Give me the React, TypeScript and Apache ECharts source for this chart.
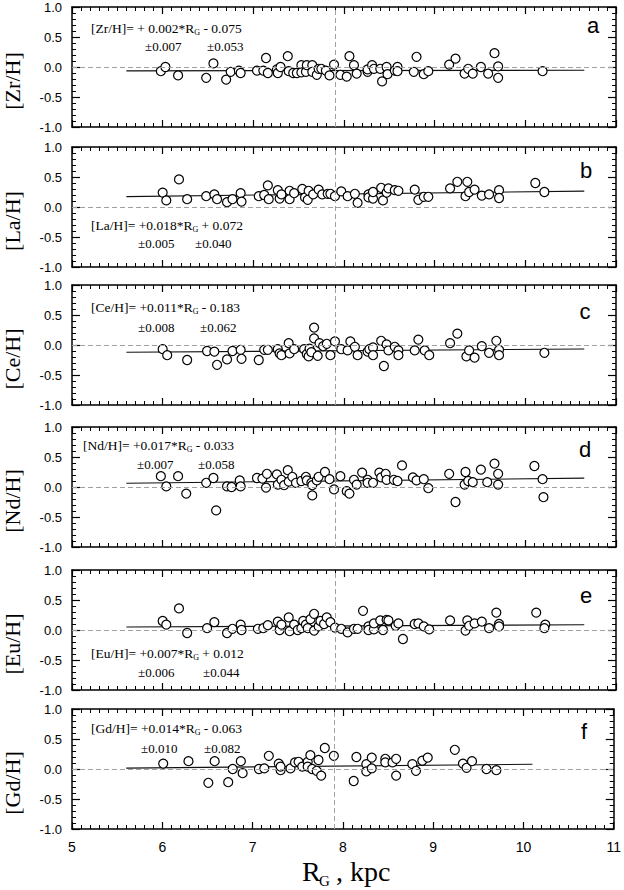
import React, { useEffect, useRef } from 'react';
import * as echarts from 'echarts';

// ---------- data ----------
const xMin = 5;
const xMax = 11;
const yMin = -1;
const yMax = 1;
const sunR = 7.9;

const elements = ['[Zr/H]', '[La/H]', '[Ce/H]', '[Nd/H]', '[Eu/H]', '[Gd/H]'];
const letters = ['a', 'b', 'c', 'd', 'e', 'f'];
const equations = [
  '[Zr/H]= + 0.002*R{g|G} - 0.075',
  '[La/H]= +0.018*R{g|G} + 0.072',
  '[Ce/H]= +0.011*R{g|G} - 0.183',
  '[Nd/H]= +0.017*R{g|G} - 0.033',
  '[Eu/H]= +0.007*R{g|G} + 0.012',
  '[Gd/H]= +0.014*R{g|G} - 0.063',
];
const slopeErrors = ['±0.007', '±0.005', '±0.008', '±0.007', '±0.006', '±0.010'];
const interceptErrors = ['±0.053', '±0.040', '±0.062', '±0.058', '±0.044', '±0.082'];

const zrFit = [[5.6, -0.064], [10.65, -0.054]];
const laFit = [[5.6, 0.173], [10.65, 0.264]];
const ceFit = [[5.6, -0.121], [10.65, -0.066]];
const ndFit = [[5.6, 0.062], [10.65, 0.148]];
const euFit = [[5.6, 0.051], [10.65, 0.087]];
const gdFit = [[5.6, 0.015], [10.1, 0.078]];

const zrData = [
  [5.98, -0.07], [6.03, 0.0], [6.17, -0.14], [6.48, -0.18], [6.56, 0.06], [6.70, -0.21], [6.75, -0.08],
  [6.84, -0.06], [6.86, -0.10], [7.04, -0.06], [7.11, -0.06], [7.14, 0.15], [7.16, -0.10], [7.26, -0.04],
  [7.27, -0.10], [7.30, 0.0], [7.38, 0.18], [7.39, -0.07], [7.44, -0.10], [7.48, -0.10],
  [7.53, 0.03], [7.53, -0.09], [7.58, -0.08], [7.59, 0.03], [7.65, 0.03], [7.65, -0.08], [7.70, -0.13],
  [7.72, -0.03], [7.75, -0.03], [7.80, -0.06], [7.84, -0.14], [7.89, 0.04], [7.96, -0.13], [8.03, -0.16],
  [8.06, 0.18], [8.11, 0.03], [8.14, -0.11], [8.26, -0.08], [8.26, -0.04], [8.31, 0.03], [8.33, -0.03],
  [8.40, -0.03], [8.42, -0.24], [8.47, 0.0], [8.48, -0.12], [8.56, -0.06], [8.59, 0.0], [8.59, -0.07],
  [8.77, -0.08], [8.80, 0.17], [8.88, -0.12], [8.93, -0.07], [9.16, 0.04], [9.23, 0.14], [9.33, -0.11],
  [9.37, -0.03], [9.42, -0.11], [9.51, 0.0], [9.59, -0.11], [9.66, 0.23], [9.70, 0.01], [9.70, -0.18],
  [10.19, -0.07],
];
const laData = [
  [6.0, 0.24], [6.04, 0.11], [6.18, 0.46], [6.27, 0.13], [6.48, 0.18], [6.57, 0.21], [6.60, 0.13],
  [6.71, 0.08], [6.77, 0.13], [6.86, 0.23], [6.87, 0.09], [7.06, 0.18], [7.12, 0.20], [7.16, 0.36],
  [7.17, 0.13], [7.27, 0.28], [7.29, 0.14], [7.31, 0.21], [7.40, 0.27], [7.40, 0.13], [7.45, 0.23],
  [7.54, 0.30], [7.57, 0.16], [7.60, 0.12], [7.61, 0.27], [7.66, 0.21], [7.72, 0.29],
  [7.76, 0.21], [7.82, 0.22], [7.85, 0.22], [7.90, 0.18], [7.97, 0.26], [8.04, 0.18], [8.12, 0.22],
  [8.15, 0.07], [8.27, 0.21], [8.27, 0.16], [8.32, 0.14], [8.32, 0.25], [8.41, 0.32], [8.43, 0.11],
  [8.47, 0.24], [8.49, 0.31], [8.56, 0.28], [8.60, 0.27], [8.78, 0.29], [8.82, 0.12], [8.88, 0.17],
  [8.93, 0.17], [9.17, 0.31], [9.25, 0.42], [9.34, 0.18], [9.36, 0.42], [9.38, 0.25], [9.44, 0.29],
  [9.52, 0.19], [9.60, 0.21], [9.71, 0.28], [9.71, 0.15], [10.11, 0.40], [10.21, 0.25],
];
const ceData = [
  [6.0, -0.07], [6.05, -0.17], [6.27, -0.25], [6.49, -0.10], [6.57, -0.11], [6.60, -0.33], [6.71, -0.24],
  [6.77, -0.10], [6.86, -0.08], [6.87, -0.23], [7.06, -0.25], [7.12, -0.08], [7.16, -0.08], [7.27, -0.07],
  [7.29, -0.14], [7.31, -0.17], [7.39, 0.03], [7.40, -0.14], [7.45, -0.07],
  [7.56, -0.07], [7.59, -0.15], [7.61, -0.19], [7.62, -0.06], [7.64, -0.12], [7.67, 0.29], [7.67, 0.11],
  [7.71, -0.18], [7.73, 0.03], [7.77, -0.02], [7.81, 0.02], [7.85, -0.17], [7.90, 0.06], [7.97, -0.07],
  [8.04, -0.09], [8.07, 0.06], [8.12, -0.03], [8.15, -0.17], [8.26, -0.11], [8.28, -0.07], [8.32, -0.04],
  [8.32, -0.17], [8.41, 0.07], [8.44, -0.35], [8.47, 0.01], [8.49, -0.09], [8.56, -0.03], [8.60, -0.09],
  [8.60, -0.17], [8.78, -0.09], [8.82, 0.09], [8.89, -0.09], [8.94, -0.17], [9.17, 0.03], [9.25, 0.19],
  [9.35, -0.19], [9.38, -0.09], [9.44, -0.21], [9.52, -0.02], [9.60, -0.13], [9.68, 0.07], [9.71, -0.08],
  [9.71, -0.17], [10.21, -0.13],
];
const ndData = [
  [5.98, 0.18], [6.04, 0.01], [6.17, 0.18], [6.26, -0.11], [6.48, 0.07], [6.56, 0.15], [6.59, -0.39],
  [6.71, 0.01], [6.76, 0.0], [6.85, 0.11], [6.86, 0.01], [7.04, 0.15], [7.10, 0.14], [7.15, 0.22],
  [7.14, -0.01], [7.26, 0.21], [7.27, 0.04], [7.31, 0.12], [7.34, 0.03], [7.38, 0.28], [7.39, 0.09],
  [7.43, 0.17], [7.47, 0.07],
  [7.53, 0.10], [7.58, 0.17], [7.59, 0.11], [7.64, 0.07], [7.65, 0.03], [7.65, -0.14], [7.70, 0.11],
  [7.72, 0.17], [7.79, 0.25], [7.84, 0.13], [7.89, -0.04], [7.96, 0.18], [8.03, -0.07], [8.06, -0.11],
  [8.11, 0.12], [8.14, 0.04], [8.20, 0.24], [8.26, 0.12], [8.26, 0.07], [8.32, 0.07], [8.39, 0.24],
  [8.41, 0.16], [8.46, 0.22], [8.47, 0.12], [8.55, 0.12], [8.59, 0.10], [8.64, 0.36], [8.76, 0.16],
  [8.80, 0.11], [8.88, 0.13], [8.93, -0.02], [9.16, 0.22], [9.23, -0.25], [9.34, 0.25], [9.33, 0.04],
  [9.37, 0.10], [9.42, 0.08], [9.51, 0.29], [9.58, 0.08], [9.66, 0.39], [9.70, 0.22], [9.70, 0.04],
  [10.10, 0.35], [10.19, 0.13], [10.20, -0.17],
];
const euData = [
  [6.0, 0.15], [6.04, 0.09], [6.18, 0.36], [6.27, -0.05], [6.49, 0.03], [6.57, 0.13], [6.71, -0.05],
  [6.77, 0.02], [6.86, 0.09], [6.87, 0.0], [7.05, 0.02], [7.11, 0.03], [7.16, 0.08], [7.27, 0.14],
  [7.29, 0.0], [7.31, 0.09], [7.39, 0.21], [7.40, -0.02], [7.45, 0.09], [7.49, 0.0],
  [7.53, 0.03], [7.55, 0.15], [7.58, 0.09], [7.60, 0.03], [7.63, 0.18], [7.67, 0.27], [7.67, -0.01],
  [7.72, 0.06], [7.74, 0.15], [7.78, 0.10], [7.81, 0.21], [7.85, 0.13], [7.90, 0.04], [7.97, 0.02],
  [8.04, -0.04], [8.11, 0.02], [8.15, 0.02], [8.21, 0.32], [8.27, 0.06], [8.27, 0.0], [8.33, 0.01],
  [8.33, 0.11], [8.40, 0.16], [8.43, 0.0], [8.47, 0.17], [8.49, 0.16], [8.57, 0.07], [8.60, 0.11],
  [8.65, -0.15], [8.78, 0.10], [8.82, 0.11], [8.88, 0.06], [8.94, 0.01], [9.17, 0.16], [9.34, -0.01],
  [9.36, 0.16], [9.38, 0.07], [9.44, 0.11], [9.52, 0.14], [9.60, 0.03], [9.68, 0.29], [9.71, 0.10],
  [9.71, 0.06], [10.12, 0.29], [10.22, 0.09], [10.21, 0.03],
];
const gdData = [
  [6.01, 0.09], [6.29, 0.13], [6.51, -0.23], [6.58, 0.13], [6.73, -0.22], [6.78, 0.0], [6.87, 0.13],
  [6.89, -0.07], [7.07, 0.0], [7.13, 0.01], [7.18, 0.22], [7.29, 0.09], [7.31, -0.02], [7.31, 0.04],
  [7.42, 0.01], [7.47, 0.11],
  [7.51, 0.12], [7.55, 0.04], [7.61, 0.12], [7.61, 0.04], [7.64, 0.23], [7.66, 0.0], [7.71, -0.03],
  [7.73, 0.15], [7.76, -0.11], [7.80, 0.35], [7.90, 0.22], [8.12, -0.2], [8.15, 0.2], [8.26, 0.08],
  [8.26, -0.04], [8.32, 0.19], [8.32, 0.01], [8.47, 0.17], [8.47, 0.11], [8.55, 0.11], [8.59, 0.17],
  [8.59, -0.11], [8.77, 0.08], [8.81, -0.03], [8.88, 0.14], [8.94, 0.19], [9.24, 0.32], [9.33, 0.09],
  [9.37, 0.02], [9.43, 0.13], [9.59, 0.0], [9.70, -0.02],
];

const panelData = [zrData, laData, ceData, ndData, euData, gdData];
const panelFits = [zrFit, laFit, ceFit, ndFit, euFit, gdFit];

// ---------- layout ----------
const W = 624;
const H = 890;
const gridLeft = 72;
const gridWidth = 544;
const gridHeight = 120;
const gridTops = [7, 147, 285, 427, 570, 709];
const eqX = [91, 91, 91, 83, 91, 91];
const eqY = [28, 225, 307, 445, 653, 728];
const errY = [46, 243, 327, 464, 672, 748];
const err1X = [145, 138, 138, 137, 138, 141];
const err2X = [207, 195, 200, 198, 203, 204];
const letterX = [593, 586, 585, 585, 586, 584];
const letterY = [25, 170, 311, 449, 595, 731];

const SANS = 'Liberation Sans, Arial, sans-serif';
const SERIF = 'Liberation Serif, Times New Roman, serif';

function buildOption() {
  const grid: any[] = [];
  const xAxis: any[] = [];
  const yAxis: any[] = [];
  const series: any[] = [];
  const graphic: any[] = [];

  for (let i = 0; i < 6; i++) {
    grid.push({ left: gridLeft, width: gridWidth, top: gridTops[i], height: gridHeight });
    const axisLine = { show: true, onZero: false, lineStyle: { color: '#000', width: 1.5 } };
    const tick = { show: true, inside: true, length: 7, lineStyle: { color: '#000', width: 1.2 } };
    const minorX = { show: true, splitNumber: 10, length: 4, lineStyle: { color: '#000', width: 1 } };
    const minorY = { show: true, splitNumber: 5, length: 4, lineStyle: { color: '#000', width: 1 } };
    const isBottom = i === 5;
    const baseX = {
      gridIndex: i, type: 'value', min: xMin, max: xMax, interval: 1,
      axisLine, axisTick: tick, minorTick: minorX,
      splitLine: { show: false }, minorSplitLine: { show: false },
    };
    xAxis.push({
      ...baseX, position: 'bottom',
      axisLabel: { show: isBottom, color: '#000', fontFamily: SANS, fontSize: 14, margin: 11 },
    });
    xAxis.push({ ...baseX, position: 'top', axisLabel: { show: false } });
    const baseY = {
      gridIndex: i, type: 'value', min: yMin, max: yMax, interval: 0.5,
      axisLine, axisTick: { ...tick, length: 8 }, minorTick: minorY,
      splitLine: { show: false }, minorSplitLine: { show: false },
    };
    yAxis.push({
      ...baseY, position: 'left',
      axisLabel: {
        show: true, color: '#000', fontFamily: SANS, fontSize: 13, margin: 10,
        formatter: (v: number) => v.toFixed(1),
      },
    });
    yAxis.push({ ...baseY, position: 'right', axisLabel: { show: false } });

    series.push({
      type: 'line',
      xAxisIndex: 2 * i,
      yAxisIndex: 2 * i,
      data: panelFits[i],
      symbol: 'none',
      silent: true,
      lineStyle: { color: '#111', width: 1.1 },
      markLine: {
        silent: true,
        symbol: ['none', 'none'],
        label: { show: false },
        lineStyle: { type: [5, 3], color: '#a0a0a0', width: 1 },
        data: [{ yAxis: 0 }, { xAxis: sunR }],
      },
      z: 1,
    });
    series.push({
      type: 'scatter',
      xAxisIndex: 2 * i,
      yAxisIndex: 2 * i,
      data: panelData[i],
      symbol: 'circle',
      symbolSize: 9,
      itemStyle: { color: '#fff', borderColor: '#000', borderWidth: 1.2, opacity: 1 },
      z: 3,
    });

    // y axis title
    graphic.push({
      type: 'text',
      x: 12,
      y: gridTops[i] + gridHeight / 2 + 14,
      rotation: Math.PI / 2,
      style: {
        text: elements[i], fill: '#000', fontFamily: SERIF, fontSize: 22,
        align: 'center', verticalAlign: 'middle',
      },
    });
    // equation
    graphic.push({
      type: 'text',
      x: eqX[i],
      y: eqY[i],
      style: {
        text: equations[i], fill: '#000', fontFamily: SERIF, fontSize: 13.5, lineHeight: 16,
        align: 'left', verticalAlign: 'middle',
        rich: {
          g: { fontFamily: SERIF, fontSize: 8, lineHeight: 8, verticalAlign: 'bottom', fill: '#000' },
        },
      },
    });
    graphic.push({
      type: 'text', x: err1X[i], y: errY[i],
      style: { text: slopeErrors[i], fill: '#000', fontFamily: SERIF, fontSize: 13, align: 'left', verticalAlign: 'middle' },
    });
    graphic.push({
      type: 'text', x: err2X[i], y: errY[i],
      style: { text: interceptErrors[i], fill: '#000', fontFamily: SERIF, fontSize: 13, align: 'left', verticalAlign: 'middle' },
    });
    // panel letter
    graphic.push({
      type: 'text', x: letterX[i], y: letterY[i],
      style: { text: letters[i], fill: '#000', fontFamily: SANS, fontSize: 22, align: 'center', verticalAlign: 'middle' },
    });
  }

  // x axis title: R_G , kpc
  graphic.push({
    type: 'text', x: 302, y: 871,
    style: { text: 'R', fill: '#000', fontFamily: SERIF, fontSize: 28, align: 'left', verticalAlign: 'middle' },
  });
  graphic.push({
    type: 'text', x: 319, y: 881,
    style: { text: 'G', fill: '#000', fontFamily: SERIF, fontSize: 15, align: 'left', verticalAlign: 'middle' },
  });
  graphic.push({
    type: 'text', x: 336, y: 871,
    style: { text: ', kpc', fill: '#000', fontFamily: SERIF, fontSize: 28, align: 'left', verticalAlign: 'middle' },
  });

  return {
    animation: false,
    backgroundColor: '#fff',
    grid,
    xAxis,
    yAxis,
    series,
    graphic: { elements: graphic },
  };
}

export default function App() {
  const ref = useRef<HTMLDivElement>(null);
  useEffect(() => {
    if (!ref.current) return;
    const chart = echarts.init(ref.current, undefined, { renderer: 'svg' });
    chart.setOption(buildOption() as any);
    return () => chart.dispose();
  }, []);
  return (
    <div
      ref={ref}
      style={{ position: 'absolute', left: 0, top: 0, width: W, height: H, background: '#fff' }}
    />
  );
}
